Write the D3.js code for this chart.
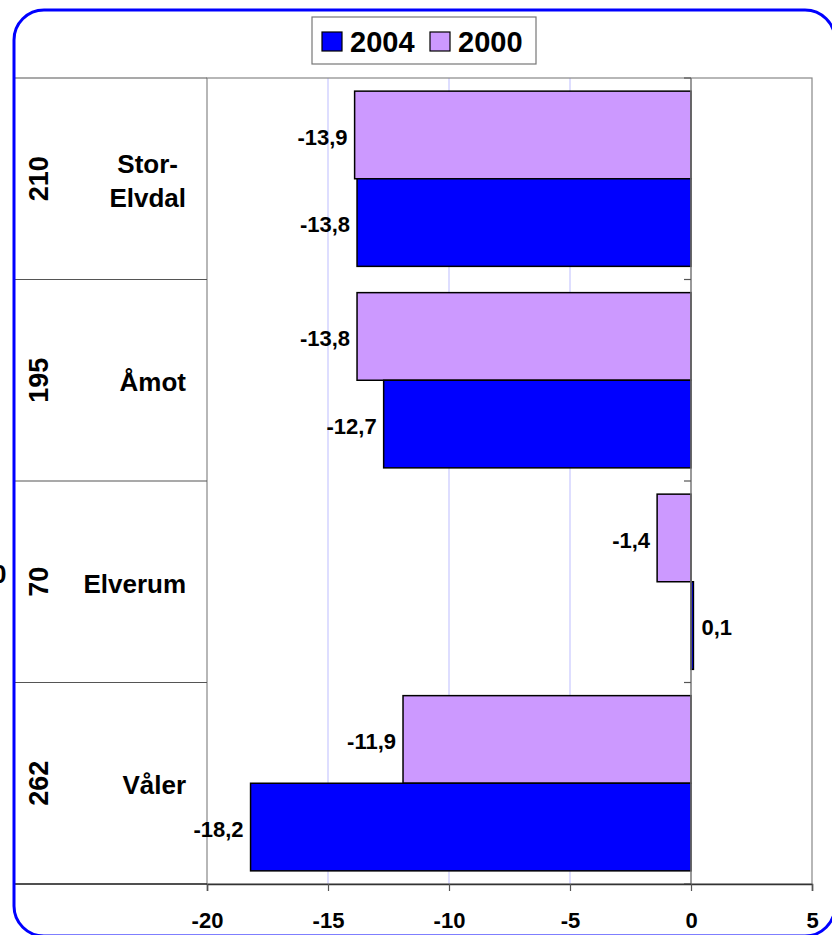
<!DOCTYPE html>
<html>
<head>
<meta charset="utf-8">
<script src="https://cdn.jsdelivr.net/npm/d3@7"></script>
<style>
  body { margin: 0; background: #fff; }
  svg { display: block; font-family: "Liberation Sans", Arial, sans-serif; font-weight: bold; }
</style>
</head>
<body>
<div id="chart"></div>
<script>
// chart data
const municipalities = ["Stor-Elvdal", "Åmot", "Elverum", "Våler"];
const ranks = [210, 195, 70, 262];
const years = ["2000", "2004"];
const values2000 = [-13.9, -13.8, -1.4, -11.9];
const values2004 = [-13.8, -12.7, 0.1, -18.2];
const xTicks = [-20, -15, -10, -5, 0, 5];
const legendOrder = ["2004", "2000"];

const width = 832;
const height = 935;

const color = d3.scaleOrdinal().domain(years).range(["#cc99ff", "#0000ff"]);
const format = v => d3.format(".1f")(v).replace(".", ",").replace("−", "-");

const rows = municipalities.map((name, i) => ({
  name,
  rank: ranks[i],
  bars: [
    { year: "2000", value: values2000[i] },
    { year: "2004", value: values2004[i] },
  ],
}));

const svg = d3.select("#chart").append("svg")
  .attr("width", width)
  .attr("height", height)
  .attr("viewBox", [0, 0, width, height]);

// plot area
const plotLeft = 207, plotRight = 812, plotTop = 78, plotBottom = 884, labelLeft = 15;

const x = d3.scaleLinear().domain([-20, 5]).range([plotLeft, plotRight]);
const y0 = d3.scaleBand().domain(municipalities).range([plotTop, plotBottom]).padding(0);
const y1 = d3.scaleBand().domain(years).range([0, y0.bandwidth()]).paddingInner(0).paddingOuter(0.15);

// gridlines
svg.append("g")
  .selectAll("line")
  .data(xTicks.filter(t => t > -20 && t < 0))
  .join("line")
  .attr("x1", d => x(d)).attr("x2", d => x(d))
  .attr("y1", plotTop).attr("y2", plotBottom)
  .attr("stroke", "#c8c8ff")
  .attr("stroke-width", 1.2);

// plot frame
svg.append("rect")
  .attr("x", plotLeft).attr("y", plotTop)
  .attr("width", plotRight - plotLeft).attr("height", plotBottom - plotTop)
  .attr("fill", "none")
  .attr("stroke", "#888")
  .attr("stroke-width", 1.2);

// label column lines
svg.append("g")
  .selectAll("line")
  .data(municipalities.map(m => y0(m)).concat([plotBottom]))
  .join("line")
  .attr("x1", labelLeft).attr("x2", plotLeft)
  .attr("y1", d => d).attr("y2", d => d)
  .attr("stroke", "#555")
  .attr("stroke-width", 1.2);

// bars
const group = svg.append("g")
  .selectAll("g")
  .data(rows)
  .join("g")
  .attr("transform", d => `translate(0,${y0(d.name)})`);

group.selectAll("rect")
  .data(d => d.bars)
  .join("rect")
  .attr("x", d => x(Math.min(0, d.value)))
  .attr("y", d => y1(d.year))
  .attr("width", d => Math.abs(x(d.value) - x(0)))
  .attr("height", y1.bandwidth())
  .attr("fill", d => color(d.year))
  .attr("stroke", "#000")
  .attr("stroke-width", 1.5);

group.selectAll("text")
  .data(d => d.bars)
  .join("text")
  .attr("x", d => d.value < 0 ? x(d.value) - 7 : x(d.value) + 8)
  .attr("y", d => y1(d.year) + y1.bandwidth() / 2 + 2)
  .attr("dy", "0.35em")
  .attr("text-anchor", d => d.value < 0 ? "end" : "start")
  .attr("font-size", 22)
  .text(d => format(d.value));

// zero axis with small ticks
svg.append("line")
  .attr("x1", x(0)).attr("x2", x(0))
  .attr("y1", plotTop).attr("y2", plotBottom)
  .attr("stroke", "#777").attr("stroke-width", 1.5);
svg.append("g")
  .selectAll("line")
  .data(municipalities.map(m => y0(m)).concat([plotBottom]))
  .join("line")
  .attr("x1", x(0) - 7).attr("x2", x(0))
  .attr("y1", d => d).attr("y2", d => d)
  .attr("stroke", "#555").attr("stroke-width", 1.2);

// x axis
const xAxis = svg.append("g")
  .attr("transform", `translate(0,${plotBottom})`)
  .call(d3.axisBottom(x).tickValues(xTicks).tickSize(7).tickPadding(21).tickFormat(d => d3.format("d")(d).replace("−", "-")));
xAxis.select(".domain").attr("stroke", "#333").attr("stroke-width", 1.5);
xAxis.selectAll(".tick line").attr("stroke", "#555").attr("stroke-width", 1.2);
xAxis.selectAll("text")
  .attr("font-size", 22)
  .attr("font-family", "Liberation Sans, Arial, sans-serif")
  .attr("font-weight", "bold")
  .attr("fill", "#000");
svg.append("line")
  .attr("x1", labelLeft).attr("x2", plotLeft)
  .attr("y1", plotBottom).attr("y2", plotBottom)
  .attr("stroke", "#333").attr("stroke-width", 1.5);

// rank numbers (rotated)
svg.append("g")
  .selectAll("text")
  .data(rows)
  .join("text")
  .attr("transform", d => `translate(39,${y0(d.name) + y0.bandwidth() / 2}) rotate(-90)`)
  .attr("text-anchor", "middle")
  .attr("dy", "0.35em")
  .attr("font-size", 27)
  .text(d => d.rank);

// municipality names
const names = svg.append("g")
  .selectAll("text")
  .data(rows)
  .join("text")
  .attr("font-size", 26)
  .attr("text-anchor", "middle");

names.each(function (d) {
  const t = d3.select(this);
  const parts = d.name.includes("-") ? [d.name.split("-")[0] + "-", d.name.split("-")[1]] : [d.name];
  const cy = y0(d.name) + y0.bandwidth() / 2 + 2;
  const lineH = 34;
  parts.forEach((p, i) => {
    t.append("tspan")
      .attr("y", cy + (i - (parts.length - 1) / 2) * lineH)
      .attr("dy", "0.35em")
      .text(p);
  });
  let maxW = 0;
  t.selectAll("tspan").each(function () { maxW = Math.max(maxW, this.getComputedTextLength()); });
  t.selectAll("tspan").attr("x", 186 - maxW / 2);
});

// cut-off text at left edge
svg.append("text")
  .attr("x", -8).attr("y", 574)
  .attr("dy", "0.35em")
  .attr("font-size", 26)
  .text("0");

// legend
const legend = svg.append("g").attr("transform", "translate(312,17)");
legend.append("rect")
  .attr("width", 224).attr("height", 47)
  .attr("fill", "#fff").attr("stroke", "#777").attr("stroke-width", 1.2);
const item = legend.selectAll("g")
  .data(legendOrder)
  .join("g")
  .attr("transform", (d, i) => `translate(${10 + i * 108},0)`);
item.append("rect")
  .attr("y", 15).attr("width", 20).attr("height", 19)
  .attr("fill", d => color(d))
  .attr("stroke", "#000").attr("stroke-width", 1.2);
item.append("text")
  .attr("x", 28).attr("y", 25)
  .attr("dy", "0.35em")
  .attr("font-size", 29)
  .text(d => d);

// outer rounded border
svg.append("rect")
  .attr("x", 14).attr("y", 10)
  .attr("width", 821).attr("height", 926)
  .attr("rx", 30).attr("ry", 30)
  .attr("fill", "none")
  .attr("stroke", "#0000ff")
  .attr("stroke-width", 3);
</script>
</body>
</html>
